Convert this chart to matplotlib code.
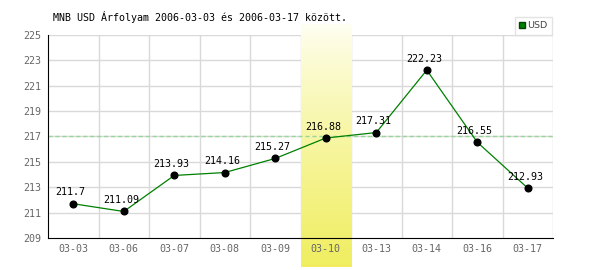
import numpy as np
import matplotlib.pyplot as plt
from matplotlib.patches import Patch

# ---------------------------------
# Data
# ---------------------------------

dates = ["03-03", "03-06", "03-07", "03-08", "03-09",
         "03-10", "03-13", "03-14", "03-16", "03-17"]
rates = [211.7, 211.09, 213.93, 214.16, 215.27,
         216.88, 217.31, 222.23, 216.55, 212.93]
labels = ["211.7", "211.09", "213.93", "214.16", "215.27",
          "216.88", "217.31", "222.23", "216.55", "212.93"]
ref_level = 217
highlight = "03-10"
y_ticks = list(range(209, 226, 2))

title = "MNB USD Árfolyam 2006-03-03 és 2006-03-17 között."

mono = "DejaVu Sans Mono"

# ---------------------------------
# Figure
# ---------------------------------

fig = plt.figure(figsize=(6, 2.7), dpi=100)
ax = fig.add_axes([0.08, 0.1185, 0.8417, 0.7519])

x = np.arange(len(dates))

# grid: vertical lines between categories, horizontal at ticks
for b in np.arange(0.5, len(dates), 1):
    ax.axvline(b, color="#d9d9d9", lw=1, zorder=1)
for t in y_ticks[1:]:
    ax.axhline(t, color="#d9d9d9", lw=1, zorder=1)

# highlighted day band (pale at top, yellow at bottom)
hi = dates.index(highlight)
grad = np.linspace(0, 1, 256).reshape(-1, 1) ** 0.8
top_c = np.array([255, 255, 245]) / 255
bot_c = np.array([240, 238, 96]) / 255
img = (top_c + grad * (bot_c - top_c)).reshape(256, 1, 3)
ax.imshow(img, extent=(hi - 0.5, hi + 0.5, 206.7, 225.8), origin="upper",
          aspect="auto", zorder=2, clip_on=False)

ax.set_xlim(-0.5, len(dates) - 0.5)
ax.set_ylim(209, 225)

ax.axhline(ref_level, color="#99d699", lw=1, ls=(0, (3, 2)), zorder=3)

ax.plot(x, rates, color="#008000", lw=0.9, zorder=4)
ax.plot(x, rates, "o", color="black", ms=4.8, zorder=5)

for xi, yi, lab in zip(x, rates, labels):
    ax.annotate(lab, (xi, yi), xytext=(-2, 4.5), textcoords="offset points",
                ha="center", va="bottom", fontsize=7.2, family=mono,
                color="black", zorder=6)

ax.set_xticks(x)
ax.set_xticklabels(dates, family=mono, fontsize=7.2, color="#666666")
ax.set_yticks(y_ticks)
ax.set_yticklabels([str(t) for t in y_ticks], family=mono, fontsize=7.2,
                   color="#666666")
ax.tick_params(axis="x", length=0, pad=4)
ax.tick_params(axis="y", length=0, pad=5)
ax.xaxis.set_zorder(8)
ax.yaxis.set_zorder(8)

for s in ["top", "right"]:
    ax.spines[s].set_visible(False)
ax.spines["left"].set_zorder(7)
ax.spines["bottom"].set_zorder(7)

fig.text(53 / 600, 1 - 17 / 270, title, family=mono, fontsize=7.2,
         va="center", ha="left")

leg = ax.legend(handles=[Patch(facecolor="#008000", edgecolor="#004400",
                               label="USD")],
                loc="upper right", bbox_to_anchor=(552 / 600, 1 - 17 / 270),
                bbox_transform=fig.transFigure, fontsize=6.8, frameon=True,
                fancybox=False, handlelength=0.6, handleheight=0.6,
                handletextpad=0.3, borderpad=0.45, borderaxespad=0)
leg.get_frame().set_edgecolor("#dddddd")
leg.get_frame().set_linewidth(1)
for t in leg.get_texts():
    t.set_color("#444444")

fig.savefig("out.png", dpi=100)
